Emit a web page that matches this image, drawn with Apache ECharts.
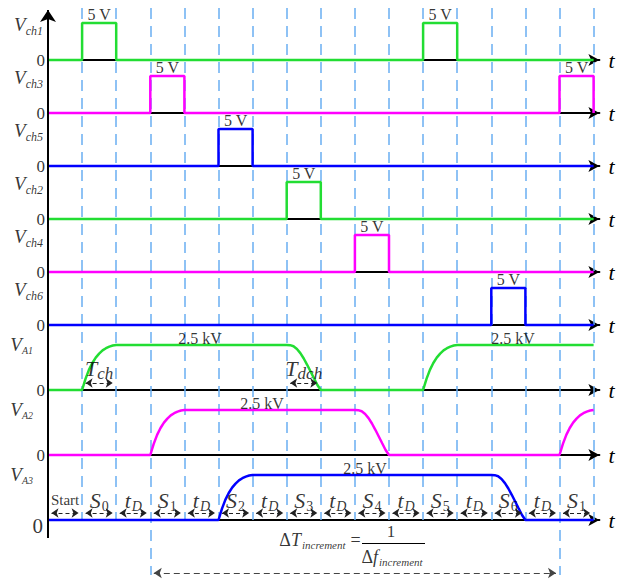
<!DOCTYPE html>
<html>
<head>
<meta charset="utf-8">
<title>Timing diagram</title>
<script src="https://cdn.jsdelivr.net/npm/echarts@6/dist/echarts.min.js"></script>
<style>
  html, body { margin: 0; padding: 0; background: #fff; }
  #chart { width: 630px; height: 585px; }
</style>
</head>
<body>
<div id="chart"></div>
<script>
// time axis: 16 slots, labels for each slot along the bottom
const slotCount = 16
const segmentLabels = ['Start', 'S0', 'tD', 'S1', 'tD', 'S2', 'tD', 'S3', 'tD', 'S4', 'tD', 'S5', 'tD', 'S6', 'tD', 'S1']

// gate pulses: slot where each 5 V pulse starts (one slot long)
const pulseVolt = 5
const ch1Pulses = [1, 11]
const ch3Pulses = [3, 15]
const ch5Pulses = [5]
const ch2Pulses = [7]
const ch4Pulses = [9]
const ch6Pulses = [13]

// high voltage outputs: slots where charging / discharging starts
const highKV = 2.5
const a1Rise = [1, 11]
const a1Fall = [7]
const a2Rise = [3, 15]
const a2Fall = [9]
const a3Rise = [5]
const a3Fall = [13]
// curve shapes, kV every 0.1 slot
const chargeKV = [0, 0.62, 1.12, 1.5, 1.8, 2.02, 2.2, 2.32, 2.41, 2.47, 2.5]
const dischargeKV = [2.5, 2.49, 2.43, 2.28, 2.05, 1.75, 1.4, 1.03, 0.65, 0.28, 0]

const SERIF = '"Liberation Serif", "Times New Roman", serif'
const GREEN = '#22dd33'
const MAGENTA = '#ff00ff'
const BLUE = '#0000ff'
const GUIDE = '#6aaff2'

const LEFT = 48
const UNIT = 34.1 // px per slot
const XMAX = 16.17
const W = XMAX * UNIT
const px2t = px => (px - LEFT) / UNIT

function pulseData(starts) {
  const d = [[0, 0]]
  starts.forEach(s => {
    d.push([s, 0], [s, pulseVolt], [s + 1, pulseVolt], [s + 1, 0])
  })
  d.push([slotCount, 0])
  return d
}

function hvData(rises, falls) {
  const ev = rises.map(t => [t, chargeKV])
    .concat(falls.map(t => [t, dischargeKV]))
    .sort((a, b) => a[0] - b[0])
  const d = [[0, 0]]
  ev.forEach(([t, shape]) => {
    shape.forEach((v, i) => d.push([t + i / (shape.length - 1), v]))
  })
  const last = d[d.length - 1]
  if (last[0] < slotCount) d.push([slotCount, last[1]])
  return d
}

const txt = (size, extra) => Object.assign({ fontFamily: SERIF, fontSize: size, color: '#000' }, extra)
const rich = {
  V: txt(19, { fontStyle: 'italic' }),
  vs: txt(12, { fontStyle: 'italic', padding: [13, 0, 0, 0] }),
  va: txt(10, { fontStyle: 'italic', padding: [12, 0, 0, 0] }),
  S: txt(22, { fontStyle: 'italic' }),
  sr: txt(14, { padding: [12, 0, 0, 1] }),
  si: txt(14, { fontStyle: 'italic', padding: [12, 0, 0, 1] }),
  st: txt(15),
  T: txt(22, { fontStyle: 'italic' }),
  ts: txt(17, { fontStyle: 'italic', padding: [10, 0, 0, 0] }),
  d: txt(18),
  dt: txt(18, { fontStyle: 'italic' }),
  inc: txt(11, { fontStyle: 'italic', padding: [10, 0, 0, 1] }),
  eq: txt(18, { padding: [0, 0, 0, 5] }),
  one: txt(17)
}

const rows = [
  { sub: 'ch1', data: pulseData(ch1Pulses), pulses: ch1Pulses, color: GREEN, base: 60, h: 37, max: pulseVolt },
  { sub: 'ch3', data: pulseData(ch3Pulses), pulses: ch3Pulses, color: MAGENTA, base: 113, h: 37, max: pulseVolt },
  { sub: 'ch5', data: pulseData(ch5Pulses), pulses: ch5Pulses, color: BLUE, base: 166, h: 37, max: pulseVolt },
  { sub: 'ch2', data: pulseData(ch2Pulses), pulses: ch2Pulses, color: GREEN, base: 219, h: 37, max: pulseVolt },
  { sub: 'ch4', data: pulseData(ch4Pulses), pulses: ch4Pulses, color: MAGENTA, base: 272, h: 37, max: pulseVolt },
  { sub: 'ch6', data: pulseData(ch6Pulses), pulses: ch6Pulses, color: BLUE, base: 325, h: 37, max: pulseVolt },
  { sub: 'A1', data: hvData(a1Rise, a1Fall), kv: [4.46, 13.64], color: GREEN, base: 390, h: 45, max: highKV },
  { sub: 'A2', data: hvData(a2Rise, a2Fall), kv: [6.28], color: MAGENTA, base: 455, h: 45, max: highKV },
  { sub: 'A3', data: hvData(a3Rise, a3Fall), kv: [9.3], color: BLUE, base: 520, h: 45, max: highKV, last: true }
]
const OV = rows.length // overlay grid index

const grid = rows.map(r => ({ left: LEFT, top: r.base - r.h, height: r.h, width: W }))
grid.push({ left: LEFT, top: 0, height: 585, width: W })

const xAxis = rows.map((r, i) => ({
  gridIndex: i,
  type: 'value',
  min: 0,
  max: XMAX,
  axisLine: {
    show: true,
    onZero: true,
    symbol: ['none', 'arrow'],
    symbolSize: [9, 11],
    lineStyle: { color: '#000', width: 2 }
  },
  axisTick: { show: false },
  axisLabel: { show: false },
  splitLine: { show: false },
  name: 't',
  nameLocation: 'end',
  nameGap: 9,
  nameTextStyle: { fontFamily: SERIF, fontStyle: 'italic', fontSize: 22, color: '#000' }
}))
xAxis.push({ gridIndex: OV, type: 'value', min: 0, max: XMAX, show: false })

const yAxis = rows.map((r, i) => ({ gridIndex: i, type: 'value', min: 0, max: r.max, show: false }))
yAxis.push({ gridIndex: OV, type: 'value', min: 0, max: 585, inverse: true, show: false })

const series = []

rows.forEach((r, i) => {
  series.push({
    type: 'line',
    xAxisIndex: i,
    yAxisIndex: i,
    data: r.data,
    showSymbol: false,
    clip: false,
    z: 3,
    lineStyle: { color: r.color, width: 2.5 },
    itemStyle: { color: r.color }
  })

  const labels = [
    {
      value: [0, 0],
      label: {
        position: 'left',
        distance: r.last ? 5 : 3,
        offset: r.last ? [0, 6] : [0, 0],
        fontFamily: SERIF,
        fontSize: r.last ? 21 : 17,
        formatter: '0'
      }
    },
    {
      value: [0, r.max],
      label: {
        position: 'left',
        distance: r.pulses ? 5 : 15,
        offset: r.pulses ? [0, 1] : [0, -1],
        formatter: r.pulses ? `{V|V}{vs|${r.sub}}` : `{V|V}{va|${r.sub}}`,
        rich
      }
    }
  ]
  if (r.pulses) {
    r.pulses.forEach(s => labels.push({
      value: [s + 0.5, pulseVolt],
      label: { position: 'top', distance: 1, fontFamily: SERIF, fontSize: 16, formatter: '5 V' }
    }))
  } else {
    r.kv.forEach(t => labels.push({
      value: [t, highKV],
      label: { position: 'top', distance: -1, fontFamily: SERIF, fontSize: 16, formatter: '2.5 kV' }
    }))
  }
  series.push({
    type: 'scatter',
    xAxisIndex: i,
    yAxisIndex: i,
    symbolSize: 0,
    clip: false,
    silent: true,
    z: 5,
    itemStyle: { color: 'transparent' },
    label: { show: true, color: '#000', fontFamily: SERIF },
    data: labels
  })
})

// dashed guide lines at slot boundaries
const guides = []
for (let t = 1; t <= slotCount; t++) {
  guides.push({ coords: [[t, 8], [t, t === 3 || t === 15 ? 575 : 520]] })
}
series.push({
  type: 'lines',
  coordinateSystem: 'cartesian2d',
  xAxisIndex: OV,
  yAxisIndex: OV,
  z: 1,
  silent: true,
  clip: false,
  symbol: 'none',
  lineStyle: { color: GUIDE, width: 1.5, type: [11, 7], opacity: 1, curveness: 0 },
  data: guides
})

// vertical axis with arrow
series.push({
  type: 'lines',
  coordinateSystem: 'cartesian2d',
  xAxisIndex: OV,
  yAxisIndex: OV,
  z: 4,
  silent: true,
  clip: false,
  symbol: ['none', 'arrow'],
  symbolSize: [0, 12],
  lineStyle: { color: '#000', width: 2, type: 'solid', opacity: 1 },
  data: [{ coords: [[0, 538], [0, 10]] }]
})

// double-headed dashed arrows
const hd = 3.5 / UNIT
const arrows = []
for (let k = 0; k < slotCount; k++) arrows.push({ coords: [[k + hd, 513], [k + 1 - hd, 513]] })
arrows.push({ coords: [[1 + hd, 383], [2 - hd, 383]] })
arrows.push({ coords: [[7 + hd, 383], [8 - hd, 383]] })
series.push({
  type: 'lines',
  coordinateSystem: 'cartesian2d',
  xAxisIndex: OV,
  yAxisIndex: OV,
  z: 4,
  silent: true,
  clip: false,
  symbol: ['arrow', 'arrow'],
  symbolSize: 7,
  lineStyle: { color: '#222', width: 1.2, type: [4, 3], opacity: 1 },
  data: arrows
})
series.push({
  type: 'lines',
  coordinateSystem: 'cartesian2d',
  xAxisIndex: OV,
  yAxisIndex: OV,
  z: 4,
  silent: true,
  clip: false,
  symbol: ['arrow', 'arrow'],
  symbolSize: 8,
  lineStyle: { color: '#444', width: 1.2, type: [6, 4], opacity: 1 },
  data: [{ coords: [[3 + hd, 573], [15 - hd, 573]] }]
})
// fraction bar
series.push({
  type: 'lines',
  coordinateSystem: 'cartesian2d',
  xAxisIndex: OV,
  yAxisIndex: OV,
  z: 4,
  silent: true,
  clip: false,
  symbol: 'none',
  lineStyle: { color: '#000', width: 1, type: 'solid', opacity: 1 },
  data: [{ coords: [[px2t(362), 543], [px2t(425), 543]] }]
})

// annotation texts
function segText(s) {
  if (s === 'Start') return '{st|Start}'
  const main = s[0] === 't' ? 'T' : 'S'
  return `{${main}|${s[0]}}{${s[0] === 't' ? 'si' : 'sr'}|${s.slice(1)}}`
}
const notes = segmentLabels.map((s, k) => ({ value: [k + 0.5, 500], label: { formatter: segText(s) } }))
notes.push({ value: [1.5, 368], label: { formatter: '{T|T}{ts|ch}' } })
notes.push({ value: [7.5, 368], label: { formatter: '{T|T}{ts|dch}' } })
notes.push({ value: [px2t(320), 540], label: { formatter: '{d|Δ}{dt|T}{inc|increment}{eq|=}' } })
notes.push({ value: [px2t(391), 531], label: { formatter: '{one|1}' } })
notes.push({ value: [px2t(392), 557], label: { formatter: '{d|Δ}{dt|f}{inc|increment}' } })
series.push({
  type: 'scatter',
  xAxisIndex: OV,
  yAxisIndex: OV,
  symbolSize: 0,
  clip: false,
  silent: true,
  z: 6,
  itemStyle: { color: 'transparent' },
  label: { show: true, position: 'inside', color: '#000', fontFamily: SERIF, rich },
  data: notes
})

const chart = echarts.init(document.getElementById('chart'), null, { renderer: 'svg' })
chart.setOption({
  animation: false,
  backgroundColor: '#fff',
  textStyle: { fontFamily: SERIF },
  grid,
  xAxis,
  yAxis,
  series
})
</script>
</body>
</html>
